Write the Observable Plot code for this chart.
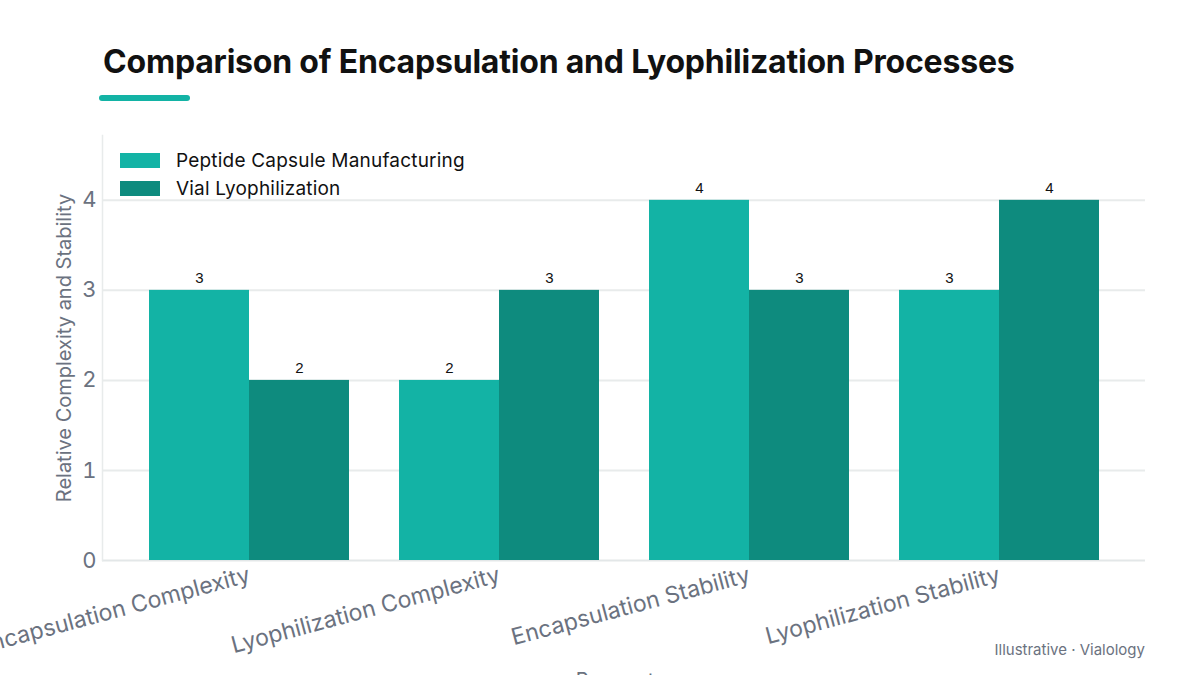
<!DOCTYPE html>
<html>
<head>
<meta charset="utf-8">
<script src="https://cdn.jsdelivr.net/npm/d3@7"></script>
<script src="https://cdn.jsdelivr.net/npm/@observablehq/plot@0.6"></script>
<style>
  html, body { margin: 0; padding: 0; background: #fff; }
  body { width: 1200px; height: 675px; overflow: hidden; position: relative; font-family: Inter, "Noto Sans", sans-serif; }
  #title { position: absolute; left: 103px; top: 42px; font-size: 32px; font-weight: 700; color: #111; letter-spacing: -0.2px; white-space: nowrap; }
  #accent { position: absolute; left: 99px; top: 95px; width: 91px; height: 6px; border-radius: 3px; background: #13b3a5; }
  #bg, #chart { position: absolute; left: 0; top: 110px; }
  #legend { position: absolute; left: 120px; top: 146px; font-size: 19px; letter-spacing: 0.2px; color: #111; }
  #legend .item { display: flex; align-items: center; height: 28px; }
  #legend .sw { width: 40px; height: 15px; margin-right: 16px; }
  #caption { position: absolute; right: 55px; top: 640px; font-size: 15px; color: #6b7280; }
</style>
</head>
<body>
<div id="title">Comparison of Encapsulation and Lyophilization Processes</div>
<div id="accent"></div>
<div id="bg"></div>
<div id="chart"></div>
<div id="legend"></div>
<div id="caption">Illustrative · Vialology</div>
<script>
const categories = ["Encapsulation Complexity", "Lyophilization Complexity", "Encapsulation Stability", "Lyophilization Stability"];
const seriesNames = ["Peptide Capsule Manufacturing", "Vial Lyophilization"];
const peptideValues = [3, 2, 4, 3];
const vialValues = [2, 3, 3, 4];
const seriesColors = ["#13b3a5", "#0e8b7e"];
const yTicks = [0, 1, 2, 3, 4];
const yLabel = "Relative Complexity and Stability";
const xLabel = "Parameter";

const data = [];
categories.forEach((c, i) => {
  data.push({category: c, series: seriesNames[0], value: peptideValues[i]});
  data.push({category: c, series: seriesNames[1], value: vialValues[i]});
});

const common = {
  width: 1200,
  height: 580,
  marginLeft: 102,
  marginRight: 55,
  marginTop: 25,
  marginBottom: 130,
  y: {domain: [0, 4.72], ticks: yTicks, label: null}
};

// Background layer: grid, axis line, y axis
const bg = Plot.plot({
  ...common,
  style: {fontFamily: "Inter, sans-serif", background: "transparent", overflow: "visible"},
  marks: [
    Plot.ruleY(yTicks.filter(d => d > 0), {stroke: "#e8ebeb", strokeWidth: 2}),
    Plot.ruleY([0], {stroke: "#e3e7e8", strokeWidth: 2}),
    Plot.frame({anchor: "left", stroke: "#e8ebeb", strokeWidth: 1.5}),
    Plot.axisY({ticks: yTicks, tickFormat: d => String(d), tickSize: 0, tickPadding: 6, fontSize: 22, color: "#6b7280",
      label: yLabel, labelAnchor: "center", labelOffset: 46})
  ]
});
document.getElementById("bg").appendChild(bg);

// Foreground layer: grouped bars
const chart = Plot.plot({
  ...common,
  style: {fontFamily: "Inter, sans-serif", background: "transparent", overflow: "visible"},
  fx: {domain: categories, paddingInner: 0.2, paddingOuter: 0.186, label: xLabel, labelAnchor: "center", axis: null},
  x: {domain: seriesNames, padding: 0, axis: null},
  color: {domain: seriesNames, range: seriesColors},
  marks: [
    Plot.axisFx({anchor: "bottom", tickSize: 0, tickRotate: -15, tickPadding: 14, fontSize: 23, color: "#6b7280",
      label: xLabel, labelAnchor: "center", labelOffset: 126}),
    Plot.barY(data, {fx: "category", x: "series", y: "value", fill: "series"}),
    Plot.text(data, {fx: "category", x: "series", y: "value", text: d => String(d.value),
      dy: -7, lineAnchor: "bottom", fontSize: 15, fill: "#111", fontFamily: "Liberation Sans, Arial, sans-serif"})
  ]
});
chart.querySelectorAll("[aria-label='y-axis tick'], [aria-label='y-axis tick label'], [aria-label='y-axis label']").forEach(n => n.remove());
document.getElementById("chart").appendChild(chart);

[bg, chart].forEach(svg => svg.querySelectorAll("[aria-label='y-axis label'] text, [aria-label='fx-axis label'] text").forEach(t => {
  t.setAttribute("font-size", "20");
  t.setAttribute("fill", "#6b7280");
  t.textContent = t.textContent.replace(/[↑→↓←]/g, "").trim();
}));

const legend = document.getElementById("legend");
seriesNames.forEach((s, i) => {
  const item = document.createElement("div");
  item.className = "item";
  const sw = document.createElement("div");
  sw.className = "sw";
  sw.style.background = seriesColors[i];
  const lab = document.createElement("span");
  lab.textContent = s;
  item.appendChild(sw);
  item.appendChild(lab);
  legend.appendChild(item);
});
</script>
</body>
</html>
